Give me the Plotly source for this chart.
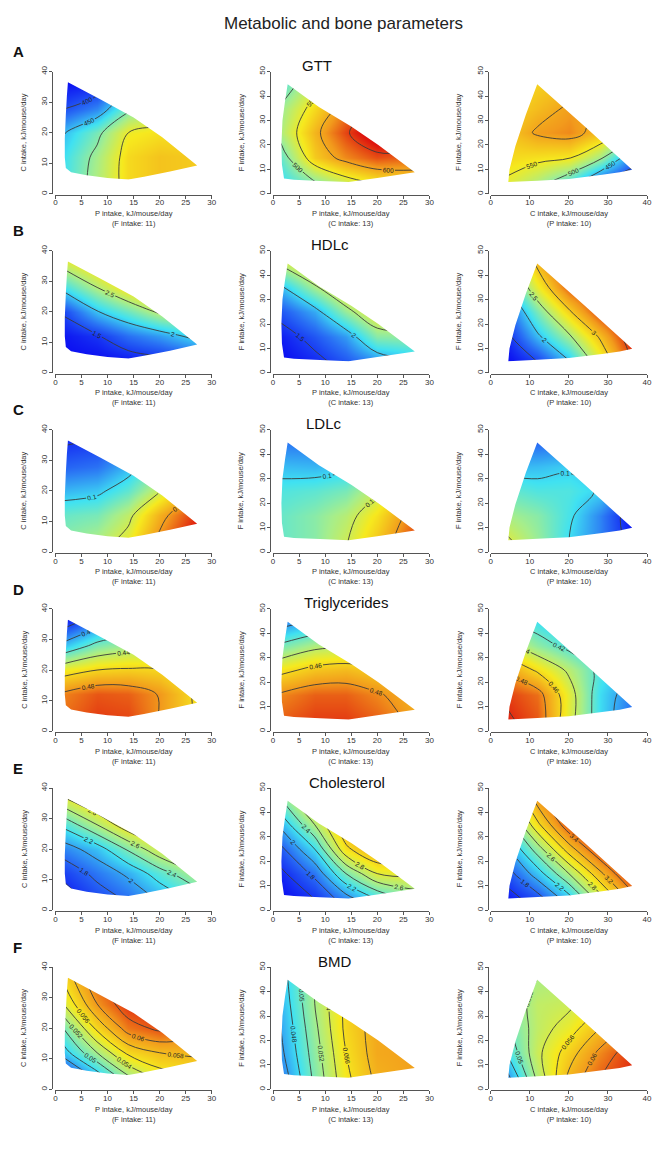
import plotly.graph_objects as go

W, H = 657, 1157
FONT = "Liberation Sans, Arial, sans-serif"

# ---------------- data ----------------
ROW_NAMES = ["GTT", "HDLc", "LDLc", "Triglycerides", "Cholesterol", "BMD"]
ROW_LETTERS = ["A", "B", "C", "D", "E", "F"]
ROW_ZMIN = [365, 1.3, 0.035, 0.365, 1.45, 0.040]
ROW_ZMAX = [665, 3.7, 0.24, 0.505, 3.75, 0.0645]
ROW_STEP = [50, 0.5, 0.05, 0.02, 0.2, 0.002]

# grid nodes for each panel type (x, y)
PC_P = [1.5, 8, 14, 20, 27.5]
PC_C = [4.5, 12, 20, 28, 37]
PF_P = [1.5, 8, 14, 20, 27.5]
PF_F = [4.5, 15, 25, 35, 45.5]
CF_C = [4, 12, 20, 28, 36.5]
CF_F = [4.5, 15, 25, 35, 45.5]

# domain (feasible region) outlines
PC_POLY_P = [2.4, 8.5, 15, 20.5, 27.2, 22, 17, 14, 10, 6, 3, 2.0, 1.8, 1.8, 2.0, 2.2]
PC_POLY_C = [36.5, 31, 25, 18.5, 9.3, 7.3, 5.6, 4.7, 5.2, 6.1, 7.1, 8.5, 12, 18, 26, 32]
PF_POLY_P = [2.8, 8.8, 15, 20.2, 27.2, 20, 14.5, 9, 4, 2.1, 1.7, 1.6, 1.8, 2.3]
PF_POLY_F = [44.8, 35.5, 27.5, 20.0, 8.8, 6.5, 4.8, 5.3, 5.8, 6.3, 12, 20, 30, 38]
CF_POLY_C = [11.9, 24, 36.2, 33, 28.5, 20, 12, 4.5, 4.8, 6.3, 9.0]
CF_POLY_F = [44.8, 27.6, 9.9, 8.8, 7.8, 6.1, 5.4, 4.8, 10, 19.5, 32.5]

# surfaces (rows = y nodes bottom->top, columns = x nodes left->right)
GTT_PC = [[465, 515, 565, 580, 575],
          [462, 510, 565, 580, 575],
          [447, 490, 550, 560, 560],
          [398, 425, 490, 520, 530],
          [365, 370, 440, 470, 490]]
GTT_PF = [[460, 495, 530, 555, 570],
          [480, 575, 615, 640, 630],
          [515, 590, 645, 690, 700],
          [505, 565, 620, 650, 660],
          [470, 530, 580, 610, 620]]
GTT_CF = [[545, 515, 470, 400, 370],
          [565, 560, 555, 510, 420],
          [575, 605, 615, 585, 520],
          [565, 585, 605, 595, 560],
          [550, 570, 580, 570, 540]]

HDL_PC = [[1.30, 1.32, 1.38, 1.45, 1.60],
          [1.35, 1.47, 1.70, 1.85, 2.10],
          [1.53, 1.98, 2.25, 2.55, 2.70],
          [2.09, 2.50, 2.85, 3.10, 3.20],
          [2.70, 3.00, 3.30, 3.50, 3.60]]
HDL_PF = [[1.30, 1.42, 1.60, 1.80, 1.95],
          [1.38, 1.60, 1.85, 2.35, 2.40],
          [1.60, 1.90, 2.40, 2.80, 2.90],
          [1.95, 2.45, 2.85, 3.10, 3.30],
          [2.60, 2.95, 3.20, 3.40, 3.60]]
HDL_CF = [[1.30, 1.50, 1.95, 2.70, 3.55],
          [1.42, 1.95, 2.45, 3.05, 3.75],
          [1.60, 2.30, 2.95, 3.55, 3.85],
          [1.95, 2.75, 3.45, 3.75, 3.90],
          [2.30, 3.10, 3.70, 3.90, 4.00]]

LDL_PC = [[0.125, 0.135, 0.158, 0.205, 0.250],
          [0.115, 0.120, 0.143, 0.190, 0.235],
          [0.090, 0.095, 0.113, 0.148, 0.200],
          [0.065, 0.070, 0.090, 0.120, 0.160],
          [0.045, 0.050, 0.070, 0.095, 0.130]]
LDL_PF = [[0.115, 0.125, 0.148, 0.180, 0.230],
          [0.115, 0.125, 0.140, 0.168, 0.215],
          [0.108, 0.112, 0.120, 0.145, 0.190],
          [0.092, 0.090, 0.095, 0.120, 0.160],
          [0.070, 0.070, 0.080, 0.100, 0.130]]
LDL_CF = [[0.155, 0.130, 0.100, 0.075, 0.040],
          [0.135, 0.125, 0.105, 0.075, 0.035],
          [0.115, 0.108, 0.108, 0.098, 0.060],
          [0.090, 0.092, 0.097, 0.090, 0.070],
          [0.070, 0.065, 0.070, 0.070, 0.060]]

TG_PC = [[0.487, 0.497, 0.495, 0.479, 0.455],
         [0.483, 0.492, 0.490, 0.479, 0.455],
         [0.452, 0.460, 0.462, 0.460, 0.445],
         [0.405, 0.425, 0.432, 0.435, 0.430],
         [0.365, 0.385, 0.400, 0.410, 0.410]]
TG_PF = [[0.490, 0.497, 0.497, 0.490, 0.475],
         [0.482, 0.490, 0.490, 0.482, 0.470],
         [0.455, 0.465, 0.468, 0.462, 0.455],
         [0.423, 0.435, 0.438, 0.440, 0.430],
         [0.390, 0.400, 0.410, 0.410, 0.410]]
TG_CF = [[0.503, 0.492, 0.447, 0.410, 0.385],
         [0.497, 0.487, 0.448, 0.410, 0.390],
         [0.477, 0.457, 0.437, 0.415, 0.400],
         [0.445, 0.428, 0.415, 0.405, 0.395],
         [0.420, 0.410, 0.400, 0.395, 0.390]]

CH_PC = [[1.50, 1.70, 1.85, 2.05, 2.30],
         [1.65, 1.86, 2.04, 2.30, 2.60],
         [1.90, 2.10, 2.43, 2.75, 2.95],
         [2.25, 2.60, 2.95, 3.10, 3.25],
         [2.80, 3.10, 3.30, 3.40, 3.50]]
CH_PF = [[1.45, 1.60, 1.90, 2.20, 2.45],
         [1.55, 1.85, 2.40, 2.80, 2.85],
         [1.75, 2.20, 2.95, 3.25, 3.30],
         [2.05, 2.60, 3.20, 3.45, 3.60],
         [2.40, 3.00, 3.50, 3.70, 3.80]]
CH_CF = [[1.50, 1.70, 2.10, 2.70, 3.30],
         [1.70, 2.10, 2.60, 3.15, 3.70],
         [1.95, 2.50, 3.10, 3.60, 3.90],
         [2.25, 2.95, 3.55, 3.90, 4.00],
         [2.60, 3.30, 3.80, 4.00, 4.10]]

BMD_PC = [[0.0420, 0.0470, 0.0520, 0.0550, 0.0560],
          [0.0470, 0.0520, 0.0565, 0.0580, 0.0585],
          [0.0500, 0.0565, 0.0610, 0.0625, 0.0610],
          [0.0540, 0.0600, 0.0635, 0.0640, 0.0630],
          [0.0565, 0.0620, 0.0650, 0.0660, 0.0650]]
BMD_PF = [[0.0445, 0.0505, 0.0555, 0.0585, 0.0595],
          [0.0455, 0.0510, 0.0560, 0.0590, 0.0595],
          [0.0460, 0.0515, 0.0565, 0.0590, 0.0595],
          [0.0465, 0.0520, 0.0565, 0.0590, 0.0590],
          [0.0470, 0.0520, 0.0565, 0.0590, 0.0590]]
BMD_CF = [[0.0450, 0.0525, 0.0585, 0.0620, 0.0640],
          [0.0480, 0.0535, 0.0570, 0.0605, 0.0635],
          [0.0495, 0.0530, 0.0550, 0.0580, 0.0610],
          [0.0500, 0.0530, 0.0535, 0.0555, 0.0580],
          [0.0500, 0.0520, 0.0525, 0.0530, 0.0550]]

SURFACES = [[GTT_PC, GTT_PF, GTT_CF],
            [HDL_PC, HDL_PF, HDL_CF],
            [LDL_PC, LDL_PF, LDL_CF],
            [TG_PC, TG_PF, TG_CF],
            [CH_PC, CH_PF, CH_CF],
            [BMD_PC, BMD_PF, BMD_CF]]

COL_GRID = [(PC_P, PC_C), (PF_P, PF_F), (CF_C, CF_F)]
COL_POLY = [(PC_POLY_P, PC_POLY_C), (PF_POLY_P, PF_POLY_F), (CF_POLY_C, CF_POLY_F)]
COL_XMAX = [30, 30, 40]
COL_YMAX = [40, 50, 50]
COL_XDTICK = [5, 5, 10]
COL_XTITLE = ["P intake, kJ/mouse/day<br>(F intake: 11)",
              "P intake, kJ/mouse/day<br>(C intake: 13)",
              "C intake, kJ/mouse/day<br>(P intake: 10)"]
COL_YTITLE = ["C intake, kJ/mouse/day", "F intake, kJ/mouse/day", "F intake, kJ/mouse/day"]
TITLE_X = [318, 332, 325, 348, 349, 337]

JET = [[0.0, '#0a0af2'], [0.17, '#2a72f4'], [0.33, '#40e2f2'], [0.48, '#a6ee8c'],
       [0.63, '#f6ea1e'], [0.81, '#f29a1c'], [1.0, '#de150e']]

# ---------------- geometry (pixels) ----------------
COL_X0 = [54, 274, 494]
COL_W = 158
ROW_TOP0 = 66
ROW_PITCH = 180.2
PLOT_H = 123
YTITLE_X = [22, 242, 462]


def px(x):
    return x / W


def py(y):
    return 1 - y / H


fig = go.Figure()
layout_axes = {}
shapes = []
annotations = []

for r in range(6):
    top = ROW_TOP0 + ROW_PITCH * r
    bot = top + PLOT_H
    step = ROW_STEP[r]
    zmin, zmax = ROW_ZMIN[r], ROW_ZMAX[r]
    for c in range(3):
        k = r * 3 + c + 1
        xa = 'x' if k == 1 else f'x{k}'
        ya = 'y' if k == 1 else f'y{k}'
        xs, ys = COL_GRID[c]
        z = SURFACES[r][c]
        # coloured surface
        fig.add_trace(go.Contour(
            x=xs, y=ys, z=z, xaxis=xa, yaxis=ya,
            zmin=zmin, zmax=zmax, zauto=False, colorscale=JET,
            contours=dict(coloring='heatmap', showlines=False),
            line=dict(width=0), showscale=False, hoverinfo='skip'))
        # contour lines
        flat = [v for row in z for v in row]
        start = round((min(flat) // step) * step, 6)
        end = round((max(flat) // step + 1) * step, 6)
        fig.add_trace(go.Contour(
            x=xs, y=ys, z=z, xaxis=xa, yaxis=ya,
            autocontour=False,
            contours=dict(coloring='none', start=start, end=end, size=step,
                          showlabels=True, labelformat='.3~g',
                          labelfont=dict(size=6.5, color='#222', family=FONT)),
            line=dict(color='#3a3a3a', width=0.9, smoothing=1.0),
            showscale=False, hoverinfo='skip'))

        x0 = COL_X0[c]
        x1 = x0 + COL_W
        axis_common = dict(showline=True, linecolor='#555', linewidth=1,
                           ticks='outside', ticklen=3, tickwidth=1, tickcolor='#555',
                           tickfont=dict(size=8, color='#333', family=FONT),
                           showgrid=False, zeroline=False, fixedrange=True)
        layout_axes['xaxis' if k == 1 else f'xaxis{k}'] = dict(
            domain=[px(x0), px(x1)], range=[0, COL_XMAX[c]],
            anchor='free', position=py(bot + 1), ticklabelstandoff=-3,
            tick0=0, dtick=COL_XDTICK[c], **axis_common)
        layout_axes['yaxis' if k == 1 else f'yaxis{k}'] = dict(
            domain=[py(bot), py(top)], range=[0, COL_YMAX[c]],
            anchor='free', position=px(x0 - 3), ticklabelstandoff=-1,
            tick0=0, dtick=10, tickangle=-90, **axis_common)

        # white mask outside the feasible region
        pp, pc = COL_POLY[c]
        X, Y = COL_XMAX[c], COL_YMAX[c]
        path = f"M0,0 L{X},0 L{X},{Y} L0,{Y} Z M" + " L".join(
            f"{a},{b}" for a, b in zip(pp, pc)) + " Z"
        shapes.append(dict(type='path', xref=xa, yref=ya, path=path,
                           fillcolor='white', line=dict(width=0),
                           layer='above', fillrule='evenodd'))

        # axis titles
        annotations.append(dict(
            x=px(x0 + COL_W / 2), y=py(bot + 25), xref='paper', yref='paper',
            text=COL_XTITLE[c], showarrow=False, xanchor='center', yanchor='middle',
            font=dict(size=7.5, color='#333', family=FONT)))
        annotations.append(dict(
            x=px(YTITLE_X[c]), y=py(top + PLOT_H / 2), xref='paper', yref='paper',
            text=COL_YTITLE[c], showarrow=False, textangle=-90,
            xanchor='center', yanchor='middle',
            font=dict(size=7.5, color='#333', family=FONT)))

    # row letter
    annotations.append(dict(
        x=px(9), y=py(46 + ROW_PITCH * r), xref='paper', yref='paper',
        text=f"<b>{ROW_LETTERS[r]}</b>", showarrow=False, xanchor='left', yanchor='middle',
        font=dict(size=15, color='#111', family=FONT)))
    # panel title
    annotations.append(dict(
        x=px(TITLE_X[r]), y=py(60 + ROW_PITCH * r), xref='paper', yref='paper',
        text=ROW_NAMES[r], showarrow=False, xanchor='center', yanchor='middle',
        font=dict(size=15, color='#111', family=FONT)))

annotations.append(dict(
    x=px(345), y=py(18), xref='paper', yref='paper',
    text="Metabolic and bone parameters", showarrow=False,
    xanchor='center', yanchor='middle',
    font=dict(size=17, color='#222', family=FONT)))

fig.update_layout(
    width=W, height=H, margin=dict(l=0, r=0, t=0, b=0),
    paper_bgcolor='white', plot_bgcolor='white',
    showlegend=False, shapes=shapes, annotations=annotations,
    font=dict(family=FONT),
    **layout_axes)

fig.write_html("out.html")
